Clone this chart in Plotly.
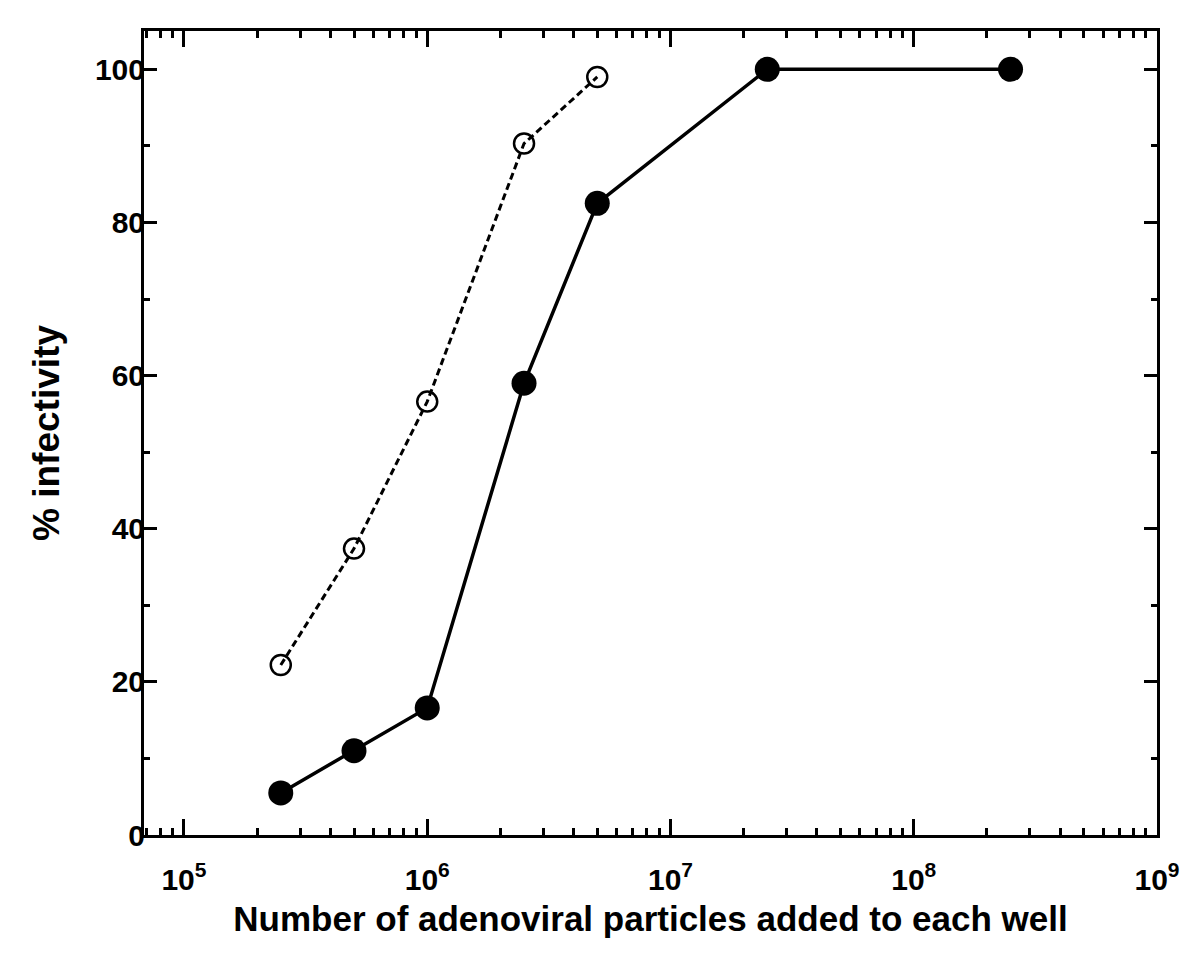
import numpy as np
import plotly.graph_objects as go

particles = [2.5e5, 5e5, 1e6, 2.5e6, 5e6, 2.5e7, 2.5e8]
filled_inf = [5.5, 11.0, 16.6, 59.0, 82.5, 100.0, 100.0]
open_particles = [2.5e5, 5e5, 1e6, 2.5e6, 5e6]
open_inf = [22.2, 37.4, 56.6, 90.3, 99.0]

x_major = [1e5, 1e6, 1e7, 1e8, 1e9]
x_major_text = ["10<sup>5</sup>", "10<sup>6</sup>", "10<sup>7</sup>", "10<sup>8</sup>", "10<sup>9</sup>"]
y_major = [0, 20, 40, 60, 80, 100]

x_minor = [m * 10**e for e in range(4, 9) for m in range(2, 10) if 6.8e4 <= m * 10**e <= 1e9]
y_minor = [10, 30, 50, 70, 90]

font = "Liberation Sans, Arial, sans-serif"

fig = go.Figure()
fig.add_trace(go.Scatter(
    x=open_particles, y=open_inf, mode="lines+markers",
    line=dict(color="black", width=3, dash="7px,4px"),
    marker=dict(symbol="circle-open", size=20, color="black", line=dict(width=2.5)),
    showlegend=False))
fig.add_trace(go.Scatter(
    x=particles, y=filled_inf, mode="lines+markers",
    line=dict(color="black", width=3.5),
    marker=dict(symbol="circle", size=25, color="black"),
    showlegend=False))

xr = [np.log10(6.85e4), 9.0]
fig.update_layout(
    width=1196, height=974,
    margin=dict(l=136, r=47, t=23, b=147),
    plot_bgcolor="white", paper_bgcolor="white",
    font=dict(family=font, color="black"),
    xaxis=dict(
        type="log", range=xr, tickmode="array", tickvals=x_major, ticktext=x_major_text,
        ticks="inside", ticklen=16, tickwidth=3, tickcolor="black",
        minor=dict(tickmode="array", tickvals=x_minor, ticks="inside", ticklen=7, tickwidth=3, tickcolor="black"),
        showline=True, linewidth=3, linecolor="black", mirror="allticks",
        showgrid=False, zeroline=False, automargin=False,
        ticklabelstandoff=16,
        tickfont=dict(size=30, family=font, color="black", weight="bold"),
        title=dict(text="<b>Number of adenoviral particles added to each well</b>", font=dict(size=35, family=font), standoff=12),
    ),
    yaxis=dict(
        range=[0, 105], tickmode="array", tickvals=y_major,
        ticks="inside", ticklen=13, tickwidth=3, tickcolor="black",
        minor=dict(tickmode="array", tickvals=y_minor, ticks="inside", ticklen=6, tickwidth=3, tickcolor="black"),
        showline=True, linewidth=3, linecolor="black", mirror="allticks",
        showgrid=False, zeroline=False, automargin=False,
        ticklabelstandoff=-10,
        tickfont=dict(size=30, family=font, color="black", weight="bold"),
        title=dict(text="<b>% infectivity</b>", font=dict(size=37, family=font), standoff=24),
    ),
)
fig.write_html("out.html")
